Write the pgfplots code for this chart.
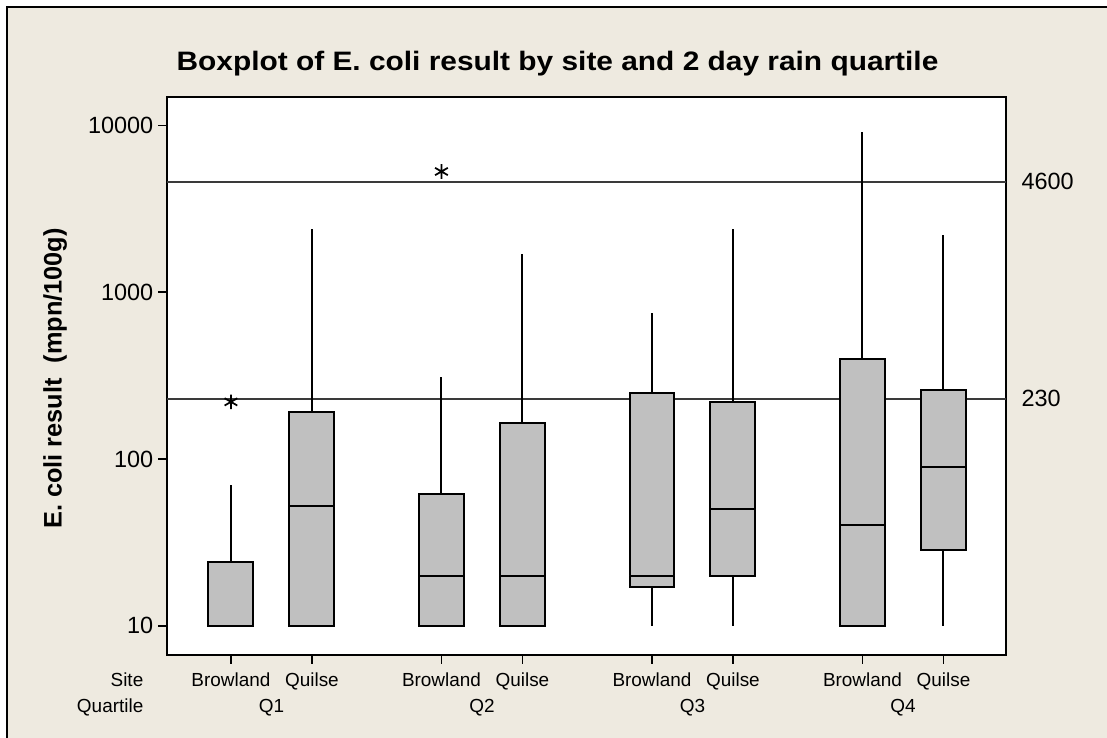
\documentclass[border=0pt]{standalone}
\usepackage{fontspec}
\setmainfont{Liberation Sans}
\newfontfamily\titlefont[FakeStretch=1.12]{Liberation Sans}
\usepackage{pgfplots}
\pgfplotsset{compat=1.18}
\usepgfplotslibrary{statistics}
\definecolor{panel}{HTML}{EEEAE0}
\definecolor{boxgray}{HTML}{C0C0C0}
\definecolor{refline}{HTML}{3A3A3A}

\pgfplotsset{
  ecbox/.style={
    boxplot/draw direction=y,
    boxplot/box extend=0.555,
    boxplot/whisker extend=0,
    fill=boxgray, draw=black, line width=1.5pt,
    mark=asterisk, mark size=5.5pt,
    mark options={draw=black, line width=1.3pt}
  }
}

\begin{document}
\begin{tikzpicture}
% panel drawn in pixel units, origin at the top left
\begin{scope}[x=0.75pt,y=-0.75pt]
  \fill[white] (0,0) rectangle (1107,738);
  \filldraw[fill=panel,draw=black,line width=1.2pt] (6.7,7.3) rectangle (1130,760);
  \node[anchor=base,font=\titlefont\bfseries\fontsize{20}{24}\selectfont]
    at (557.5,71) {Boxplot of E. coli result by site and 2 day rain quartile};
  \node[anchor=base,rotate=90,font=\bfseries\fontsize{19}{23}\selectfont]
    at (61.7,378.5) {E. coli result\hspace{0.3em} (mpn/100g)};
  \node[anchor=base east,font=\fontsize{14.2}{17}\selectfont] at (148,686) {Site};
  \node[anchor=base east,font=\fontsize{14.2}{17}\selectfont] at (148,712.7) {Quartile};
\end{scope}

\begin{axis}[
  at={(125.25pt,-491.25pt)}, anchor=south west,
  scale only axis, width=629.1pt, height=418.5pt,
  xmin=0.21, xmax=10.57,
  ymode=log, ymin=6.67, ymax=14830,
  ytick={10,100,1000,10000},
  yticklabels={10,100,1000,10000},
  yminorticks=false,
  xtick={1,2,3.6,4.6,6.2,7.2,8.8,9.8},
  xticklabels={Browland,Quilse,Browland,Quilse,Browland,Quilse,Browland,Quilse},
  tick align=outside, major tick length=6.75pt,
  xtick pos=left, ytick pos=left,
  axis line style={line width=1.4pt},
  tick style={black, line width=1.4pt},
  yticklabel style={font=\fontsize{17.6}{21}\selectfont},
  xticklabel style={font=\fontsize{14.2}{17}\selectfont, anchor=base, yshift=-16.8pt},
  axis background/.style={fill=white},
  clip=false,
]
% reference limits
\addplot[refline, line width=1.3pt, forget plot] coordinates {(0.21,4600) (10.57,4600)};
\addplot[refline, line width=1.3pt, forget plot] coordinates {(0.21,230) (10.57,230)};

% Q1
\addplot[ecbox, boxplot/draw position=1, boxplot prepared={lower whisker=10, lower quartile=10, median=10, upper quartile=24, upper whisker=70}]
  table[row sep=\\, y index=0] {220\\};
\addplot[ecbox, boxplot/draw position=2, boxplot prepared={lower whisker=10, lower quartile=10, median=52, upper quartile=190, upper whisker=2400}]
  coordinates {};
% Q2
\addplot[ecbox, boxplot/draw position=3.6, boxplot prepared={lower whisker=10, lower quartile=10, median=20, upper quartile=62, upper whisker=310}]
  table[row sep=\\, y index=0] {5300\\};
\addplot[ecbox, boxplot/draw position=4.6, boxplot prepared={lower whisker=10, lower quartile=10, median=20, upper quartile=165, upper whisker=1700}]
  coordinates {};
% Q3
\addplot[ecbox, boxplot/draw position=6.2, boxplot prepared={lower whisker=10, lower quartile=17, median=20, upper quartile=250, upper whisker=750}]
  coordinates {};
\addplot[ecbox, boxplot/draw position=7.2, boxplot prepared={lower whisker=10, lower quartile=20, median=50, upper quartile=220, upper whisker=2400}]
  coordinates {};
% Q4
\addplot[ecbox, boxplot/draw position=8.8, boxplot prepared={lower whisker=10, lower quartile=10, median=40, upper quartile=400, upper whisker=9100}]
  coordinates {};
\addplot[ecbox, boxplot/draw position=9.8, boxplot prepared={lower whisker=10, lower quartile=28.5, median=90, upper quartile=260, upper whisker=2200}]
  coordinates {};

\node[anchor=west, xshift=8.25pt, font=\fontsize{17.6}{21}\selectfont] at (axis cs:10.57,4600) {4600};
\node[anchor=west, xshift=8.25pt, font=\fontsize{17.6}{21}\selectfont] at (axis cs:10.57,230) {230};

\node[anchor=base, yshift=-43.3pt, font=\fontsize{14.2}{17}\selectfont] at (axis cs:1.5,6.67) {Q1};
\node[anchor=base, yshift=-43.3pt, font=\fontsize{14.2}{17}\selectfont] at (axis cs:4.1,6.67) {Q2};
\node[anchor=base, yshift=-43.3pt, font=\fontsize{14.2}{17}\selectfont] at (axis cs:6.7,6.67) {Q3};
\node[anchor=base, yshift=-43.3pt, font=\fontsize{14.2}{17}\selectfont] at (axis cs:9.3,6.67) {Q4};
\end{axis}

\pgfresetboundingbox
\path[use as bounding box] (0,0) rectangle (830.25pt,-553.5pt);
\end{tikzpicture}
\end{document}
